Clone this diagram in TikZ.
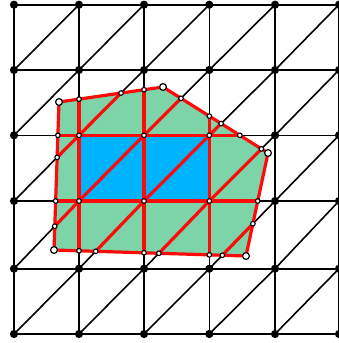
\documentclass[tikz,border=0pt]{standalone}
\usetikzlibrary{intersections}
\definecolor{polygreen}{HTML}{7ED4A9}
\definecolor{cellblue}{HTML}{00B3FF}
\definecolor{edgered}{HTML}{FF0A0A}
\begin{document}
\begin{tikzpicture}[x=1pt,y=-1pt,
  gridline/.style={black,line width=1.6pt},
  redline/.style={edgered,line width=3.2pt},
  cutdot/.style={fill=white,draw=black,line width=1.1pt},
  cornerdot/.style={fill=white,draw=black,line width=1.2pt}]
\useasboundingbox (0,0) rectangle (339,343);
\clip (0,0) rectangle (339,343);
% grid vertices
\foreach \x [count=\i from 0] in {14,79,144,209.3,275,339}
  \foreach \y [count=\j from 0] in {4.7,70,135.3,201,268.7,334}
    \coordinate (g\i\j) at (\x,\y);
% black grid
\foreach \i in {0,...,5} \draw[gridline] (g\i0) -- (g\i5);
\foreach \j in {0,...,5} \draw[gridline] (g0\j) -- (g5\j);
\foreach \i in {0,...,4} \foreach \j in {0,...,4} {
  \pgfmathtruncatemacro\ii{\i+1}
  \pgfmathtruncatemacro\jj{\j+1}
  \draw[gridline] (g\i\jj) -- (g\ii\j);
}
\foreach \i in {0,...,5} \foreach \j in {0,...,5} \fill (g\i\j) circle (4.1pt);
% polygon
\coordinate (pA) at (59,102);
\coordinate (pB) at (163,87);
\coordinate (pC) at (268,153);
\coordinate (pD) at (246,256);
\coordinate (pE) at (54,250);
\fill[polygreen] (pA) -- (pB) -- (pC) -- (pD) -- (pE) -- cycle;
\fill[cellblue] (g12) rectangle (g33);
\begin{scope}
  \clip (pA) -- (pB) -- (pC) -- (pD) -- (pE) -- cycle;
  \foreach \i in {1,2,3} \draw[redline] (g\i0) -- (g\i5);
  \foreach \j in {2,3} \draw[redline] (g0\j) -- (g5\j);
  \foreach \a/\b in {g12/g21,g22/g31,g32/g41,g13/g22,g23/g32,g33/g42,g03/g12,g14/g23,g24/g33,g34/g43,g04/g13}
    \draw[redline] (\a) -- (\b);
\end{scope}
\draw[redline,line join=round,name path=poly] (pA) -- (pB) -- (pC) -- (pD) -- (pE) -- cycle;
% cut points
\foreach \a/\b in {g02/g52,g03/g53,g10/g15,g20/g25,g30/g35,g12/g21,g22/g31,g32/g41,g33/g42,g34/g43,g24/g33,g14/g23,g04/g13,g03/g12} {
  \path[name path=cl] (\a) -- (\b);
  \fill[cutdot,name intersections={of=poly and cl,total=\t}]
    \foreach \s in {1,...,\t} {(intersection-\s) circle (2.3pt)};
}
\foreach \p in {g12,g22,g32,g13,g23,g33} \filldraw[cutdot] (\p) circle (2.3pt);
\foreach \p in {pA,pB,pC,pD,pE} \filldraw[cornerdot] (\p) circle (3.4pt);
\end{tikzpicture}
\end{document}
